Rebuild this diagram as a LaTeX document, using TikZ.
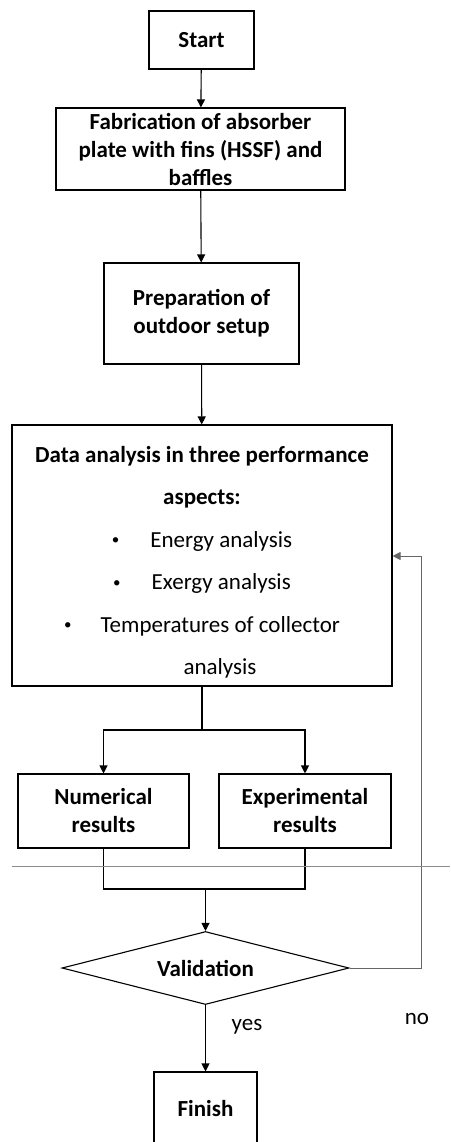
\documentclass[tikz,border=0pt]{standalone}
\usepackage{fontspec}
\setmainfont{Carlito}
\usetikzlibrary{shapes.geometric, arrows.meta, positioning}
\newcommand{\smallbullet}{\raisebox{2.5pt}{\fontsize{15}{15}\selectfont\textbullet}}

\begin{document}
\begin{tikzpicture}[x=1pt, y=-1pt,
        stepbox/.style={rectangle, draw=black, line width=1.1pt, text centered, align=center, inner sep=0pt, font=\fontsize{23}{28}\selectfont\bfseries},
        decision/.style={diamond, draw=black, line width=1.1pt, aspect=3.9, inner sep=0pt, font=\fontsize{23}{28}\selectfont\bfseries},
        arrow/.style={-{Triangle[length=8pt,width=8pt]}, line width=1.1pt},
        loopline/.style={-{Triangle[length=8pt,width=8pt]}, line width=1pt, draw=black!60},
        lbl/.style={font=\fontsize{23}{28}\selectfont}
    ]
        \useasboundingbox (0,0) rectangle (450,1142);

        % Nodes
        \node (start) [stepbox, minimum width=105pt, minimum height=58pt] at (201.5,40) {Start};
        \node (fab) [stepbox, minimum width=289pt, minimum height=82pt] at (200.5,149) {Fabrication of absorber\\plate with fins (HSSF) and\\baffles};
        \node (prep) [stepbox, minimum width=195pt, minimum height=101pt] at (201.5,313.5) {Preparation of\\outdoor setup};
        \node (data) [stepbox, minimum width=380pt, minimum height=261pt, font=\fontsize{23}{42.5}\selectfont] at (202,555.5)
            {\rule{0pt}{30pt}\textbf{Data analysis in three performance}\\
             \textbf{aspects:}\\
             \smallbullet\hspace{31pt}Energy analysis\\
             \smallbullet\hspace{31pt}Exergy analysis\\
             \smallbullet\hspace{29pt}Temperatures of collector\\
             \hspace{36pt}analysis};
        \node (num) [stepbox, minimum width=171pt, minimum height=74pt] at (103.5,811) {Numerical\\results};
        \node (exp) [stepbox, minimum width=172pt, minimum height=74pt] at (305,811) {Experimental\\results};
        \node (valid) [decision, minimum width=287pt, minimum height=73pt] at (205.5,968) {Validation};
        \node (finish) [stepbox, minimum width=103pt, minimum height=74pt] at (205.5,1109) {Finish};

        % Arrows
        \draw [arrow] (start) -- (fab);
        \draw [arrow] (fab) -- (prep);
        \draw [arrow] (prep) -- (data);
        \coordinate (split) at (202,730);
        \draw [line width=1.1pt] (data.south) -- (split);
        \draw [arrow] (split) -| (num.north);
        \draw [arrow] (split) -| (exp.north);
        \coordinate (merge) at (205.5,889);
        \draw [line width=1.1pt] (num.south) |- (merge) -| (exp.south);
        \draw [arrow] (merge) -- (valid.north);
        \draw [arrow] (valid.south) -- (finish.north);
        \coordinate (back) at (421,968);
        \draw [loopline] (valid.east) -- (back) |- (data.east |- 0,556);

        % Separator and labels
        \draw [black!45, line width=0.7pt] (12,866) -- (450,866);
        \node (yes) [lbl] at (247,1027) {yes};
        \node (no) [lbl] at (417,1019) {no};
    \end{tikzpicture}
\end{document}
